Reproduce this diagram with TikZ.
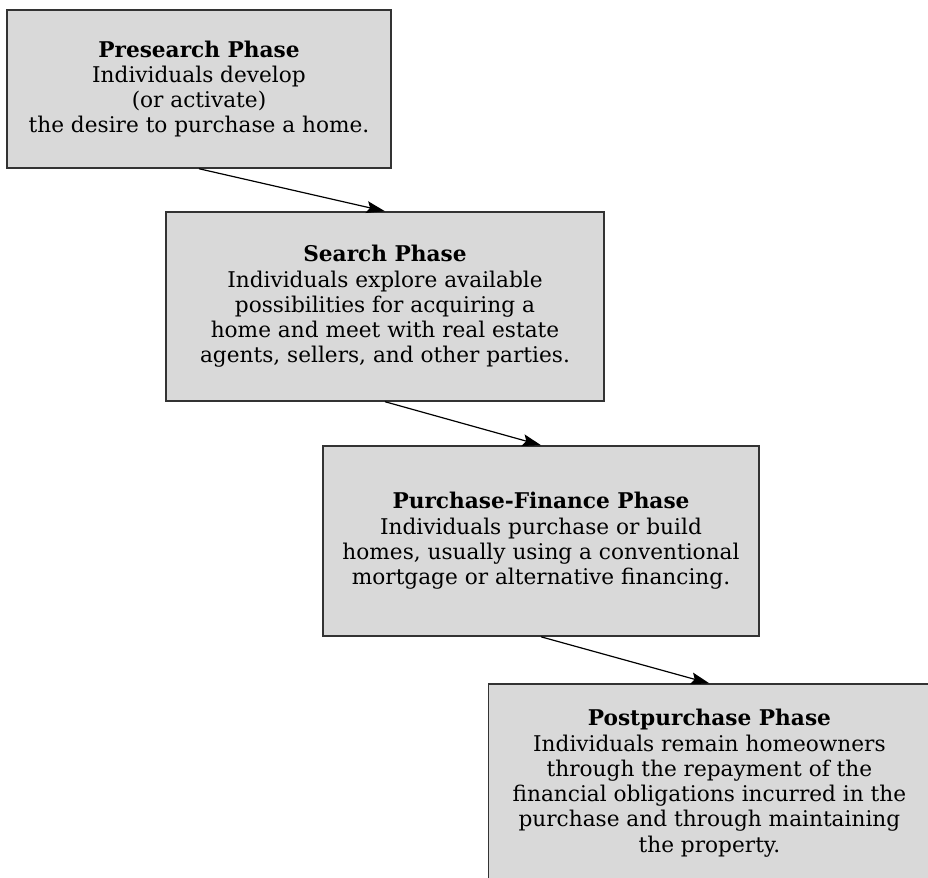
\documentclass[tikz,border=0pt]{standalone}
\usepackage{fontspec}
\setmainfont{DejaVu Serif}
\usetikzlibrary{arrows.meta}
\definecolor{phasebg}{HTML}{D9D9D9}
\definecolor{phaseline}{HTML}{333333}

\begin{document}
\begin{tikzpicture}[
  phasenode/.style={draw=phaseline, line width=1.1pt, fill=phasebg, minimum width=11.59cm, minimum height=5cm, align=center, inner sep=0pt, font=\fontsize{16.3}{19}\selectfont},
  arrow/.style={-{Stealth[length=14pt, width=9pt, inset=2.5pt]}, line width=0.9pt}
]
\useasboundingbox (0,0) rectangle (24.553,-23.23);
\node[phasenode, minimum width=10.16cm, minimum height=4.18cm] (presearch) at (5.265,-2.355) {\textbf{Presearch Phase}\\Individuals develop\\(or activate)\\the desire to purchase a home.};
\node[phasenode] (search) at (10.186,-8.109) {\textbf{Search Phase}\\Individuals explore available\\possibilities for acquiring a\\home and meet with real estate\\agents, sellers, and other parties.};
\node[phasenode, minimum width=11.54cm, minimum height=5.03cm] (purchase) at (14.314,-14.314) {\textbf{Purchase-Finance Phase}\\Individuals purchase or build\\homes, usually using a conventional\\mortgage or alternative financing.};
\node[phasenode, minimum width=11.7cm, minimum height=5.24cm] (postpurchase) at (18.77,-20.72) {\textbf{Postpurchase Phase}\\Individuals remain homeowners\\through the repayment of the\\financial obligations incurred in the\\purchase and through maintaining\\the property.};

\draw[arrow] (presearch.south) -- (search.north);
\draw[arrow] (search.south) -- (purchase.north);
\draw[arrow] (purchase.south) -- (postpurchase.north);
\end{tikzpicture}
\end{document}
